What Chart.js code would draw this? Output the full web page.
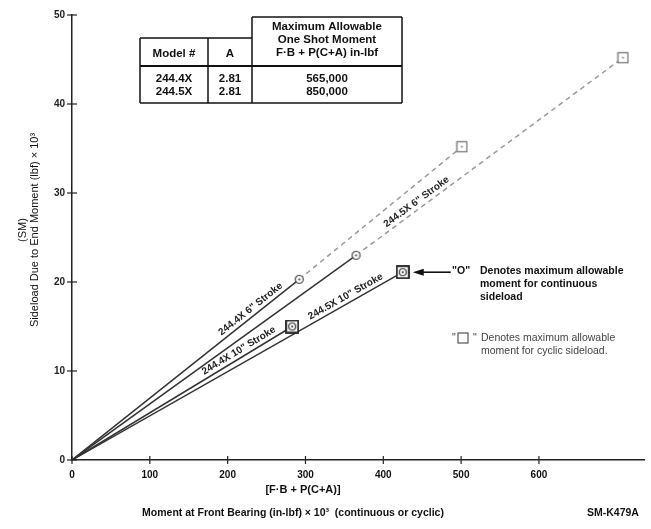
<!DOCTYPE html>
<html>
<head>
<meta charset="utf-8">
<script src="https://cdn.jsdelivr.net/npm/chart.js@4.4.0/dist/chart.umd.min.js"></script>
<style>
  html, body { margin: 0; padding: 0; background: #fff; }
  #wrap { width: 651px; height: 529px; }
</style>
</head>
<body>
<div id="wrap"><canvas id="myChart" width="651" height="529"></canvas></div>
<script>
// model / stroke combinations
const models = ['244.4X 6" Stroke', '244.5X 6" Stroke', '244.4X 10" Stroke', '244.5X 10" Stroke'];
// max allowable moment for continuous sideload (circle)
const contMoment = [292, 365, 283, 425];
const contSideload = [20.3, 23.0, 15.0, 21.1];
// max allowable moment for cyclic sideload (square)
const cycMoment = [501, 708, 283, 425];
const cycSideload = [35.2, 45.2, 15.0, 21.1];
// x value where each line label is centred
const labelMoment = [235, 448, 219, 356];

const xTicks = [0, 100, 200, 300, 400, 500, 600];
const yTicks = [0, 10, 20, 30, 40, 50];

const tableModels = ["244.4X", "244.5X"];
const tableA = ["2.81", "2.81"];
const tableMoment = ["565,000", "850,000"];

const FONT = '"Liberation Sans", Arial, sans-serif';

function makeMarker(kind) {
  const c = document.createElement("canvas");
  const s = kind == "circle" ? 11 : kind == "square" ? 13 : 14;
  c.width = s;
  c.height = s;
  const g = c.getContext("2d");
  const m = s / 2;
  g.fillStyle = "#fff";
  if (kind == "circle") {
    g.beginPath();
    g.arc(m, m, 4, 0, 2 * Math.PI);
    g.fill();
    g.strokeStyle = "#444";
    g.lineWidth = 1.2;
    g.stroke();
    g.fillStyle = "#444";
  } else if (kind == "square") {
    g.fillRect(1.5, 1.5, s - 3, s - 3);
    g.strokeStyle = "#777";
    g.lineWidth = 1.3;
    g.strokeRect(1.5, 1.5, s - 3, s - 3);
    g.fillStyle = "#888";
  } else {
    g.fillRect(1, 1, s - 2, s - 2);
    g.strokeStyle = "#222";
    g.lineWidth = 1.8;
    g.strokeRect(1, 1, s - 2, s - 2);
    g.beginPath();
    g.arc(m, m, 3.5, 0, 2 * Math.PI);
    g.strokeStyle = "#333";
    g.lineWidth = 1.2;
    g.stroke();
    g.fillStyle = "#333";
  }
  g.beginPath();
  g.arc(m, m, 1.1, 0, 2 * Math.PI);
  g.fill();
  return c;
}

const circleImg = makeMarker("circle");
const squareImg = makeMarker("square");
const bothImg = makeMarker("both");

// build datasets
let circlePts = [];
let squarePts = [];
let bothPts = [];
let datasets = [];
models.forEach((name, i) => {
  const same = cycMoment[i] == contMoment[i] && cycSideload[i] == contSideload[i];
  if (same) {
    bothPts.push({ x: contMoment[i], y: contSideload[i] });
  } else {
    circlePts.push({ x: contMoment[i], y: contSideload[i] });
    squarePts.push({ x: cycMoment[i], y: cycSideload[i] });
    //Dashed part up to the cyclic limit
    datasets.push({
      label: name + " cyclic",
      data: [
        { x: contMoment[i], y: contSideload[i] },
        { x: cycMoment[i], y: cycSideload[i] },
      ],
      showLine: true,
      borderColor: "#9a9a9a",
      borderWidth: 1.5,
      borderDash: [5, 4],
      pointRadius: 0,
      order: 2,
    });
  }
  //Solid part from origin
  datasets.push({
    label: name,
    data: [
      { x: 0, y: 0 },
      { x: contMoment[i], y: contSideload[i] },
    ],
    showLine: true,
    borderColor: "#333",
    borderWidth: 1.5,
    pointRadius: 0,
    order: 1,
  });
});
datasets.push({ label: "circle", data: circlePts, pointStyle: circleImg, pointRadius: 5, order: 0 });
datasets.push({ label: "square", data: squarePts, pointStyle: squareImg, pointRadius: 5, order: 0 });
datasets.push({ label: "both", data: bothPts, pointStyle: bothImg, pointRadius: 6, order: 0 });

function segmentFor(i, xv) {
  if (xv > contMoment[i]) {
    return [contMoment[i], contSideload[i], cycMoment[i], cycSideload[i]];
  }
  return [0, 0, contMoment[i], contSideload[i]];
}

function line(ctx, x1, y1, x2, y2) {
  ctx.beginPath();
  ctx.moveTo(x1, y1);
  ctx.lineTo(x2, y2);
  ctx.stroke();
}

const annotationPlugin = {
  id: "annotations",
  afterDraw(chart) {
    const ctx = chart.ctx;
    const xs = chart.scales.x;
    const ys = chart.scales.y;
    const area = chart.chartArea;
    ctx.save();

    //Tick marks crossing the axes
    ctx.strokeStyle = "#222";
    ctx.lineWidth = 1.2;
    xTicks.forEach((v) => {
      const px = xs.getPixelForValue(v);
      line(ctx, px, area.bottom - 4, px, area.bottom + 4);
    });
    yTicks.forEach((v) => {
      const py = ys.getPixelForValue(v);
      line(ctx, area.left - 5, py, area.left + 5, py);
    });

    //Labels along the lines
    ctx.fillStyle = "#222";
    ctx.font = "bold 10px " + FONT;
    ctx.textAlign = "center";
    ctx.textBaseline = "bottom";
    models.forEach((name, i) => {
      const seg = segmentFor(i, labelMoment[i]);
      const x1 = xs.getPixelForValue(seg[0]);
      const y1 = ys.getPixelForValue(seg[1]);
      const x2 = xs.getPixelForValue(seg[2]);
      const y2 = ys.getPixelForValue(seg[3]);
      const t = (labelMoment[i] - seg[0]) / (seg[2] - seg[0]);
      const cx = x1 + (x2 - x1) * t;
      const cy = y1 + (y2 - y1) * t;
      ctx.save();
      ctx.translate(cx, cy);
      ctx.rotate(Math.atan2(y2 - y1, x2 - x1));
      ctx.fillText(name, 0, -2);
      ctx.restore();
    });

    //Table
    const tl = 140, c1 = 208, c2 = 252, tr = 402;
    const top3 = 17, top = 38, hb = 66, bot = 103;
    ctx.strokeStyle = "#111";
    ctx.lineWidth = 1.5;
    line(ctx, tl, top, c2, top);
    line(ctx, c2, top3, tr, top3);
    line(ctx, tl, top, tl, bot);
    line(ctx, c1, top, c1, bot);
    line(ctx, c2, top3, c2, bot);
    line(ctx, tr, top3, tr, bot);
    line(ctx, tl, bot, tr, bot);
    ctx.lineWidth = 2.2;
    line(ctx, tl, hb, tr, hb);

    ctx.fillStyle = "#111";
    ctx.textBaseline = "middle";
    ctx.font = "bold 11.5px " + FONT;
    ctx.fillText("Model #", (tl + c1) / 2, 54);
    ctx.fillText("A", (c1 + c2) / 2, 54);
    ctx.fillText("Maximum Allowable", (c2 + tr) / 2, 27);
    ctx.fillText("One Shot Moment", (c2 + tr) / 2, 40);
    ctx.fillText("F\u00B7B + P(C+A) in-lbf", (c2 + tr) / 2, 53);
    tableModels.forEach((m, r) => {
      const ry = 79 + r * 13;
      ctx.fillText(m, (tl + c1) / 2, ry);
      ctx.fillText(tableA[r], (c1 + c2) / 2, ry);
      ctx.fillText(tableMoment[r], (c2 + tr) / 2, ry);
    });

    //Arrow to the 244.5X 10" point
    const ax = xs.getPixelForValue(contMoment[3]) + 10;
    const ay = ys.getPixelForValue(contSideload[3]);
    ctx.strokeStyle = "#111";
    ctx.lineWidth = 1.6;
    line(ctx, ax + 8, ay, ax + 38, ay);
    ctx.beginPath();
    ctx.moveTo(ax, ay);
    ctx.lineTo(ax + 11, ay - 3.5);
    ctx.lineTo(ax + 11, ay + 3.5);
    ctx.closePath();
    ctx.fill();

    //Notes
    ctx.textAlign = "left";
    ctx.font = "bold 10.5px " + FONT;
    ctx.fillText('"O"', 452, 271);
    ctx.fillText("Denotes maximum allowable", 480, 271);
    ctx.fillText("moment for continuous", 480, 284);
    ctx.fillText("sideload", 480, 297);
    ctx.fillStyle = "#444";
    ctx.font = "10.5px " + FONT;
    ctx.fillText('"', 452, 338);
    ctx.fillText('"', 473, 338);
    ctx.strokeStyle = "#555";
    ctx.lineWidth = 1.2;
    ctx.strokeRect(458, 333, 10, 10);
    ctx.fillText("Denotes maximum allowable", 481, 338);
    ctx.fillText("moment for cyclic sideload.", 481, 351);

    //Axis titles
    ctx.fillStyle = "#111";
    ctx.textAlign = "center";
    ctx.font = "bold 11px " + FONT;
    ctx.fillText("[F\u00B7B + P(C+A)]", 303, 490);
    ctx.font = "bold 10.5px " + FONT;
    ctx.fillText("Moment at Front Bearing (in-lbf) \u00D7 10\u00B3  (continuous or cyclic)", 293, 513);
    ctx.textAlign = "left";
    ctx.fillText("SM-K479A", 587, 513);

    ctx.save();
    ctx.translate(23, 230);
    ctx.rotate(-Math.PI / 2);
    ctx.textAlign = "center";
    ctx.font = "11px " + FONT;
    ctx.fillText("(SM)", 0, 0);
    ctx.fillText("Sideload Due to End Moment (lbf) \u00D7 10\u00B3", 0, 12);
    ctx.restore();

    ctx.restore();
  },
};

const ctx = document.getElementById("myChart");
const myChart = new Chart(ctx, {
  type: "scatter",
  data: { datasets: datasets },
  options: {
    responsive: false,
    animation: false,
    devicePixelRatio: 1,
    layout: { padding: { top: 15, right: 0, left: 0, bottom: 0 } },
    plugins: {
      legend: { display: false },
      tooltip: { enabled: false },
    },
    scales: {
      x: {
        type: "linear",
        min: 0,
        max: 735,
        afterBuildTicks: (scale) => {
          scale.ticks = xTicks.map((v) => ({ value: v }));
        },
        afterFit: (scale) => {
          scale.height = 69;
        },
        grid: { display: false, drawTicks: false },
        border: { display: true, color: "#222", width: 1.5 },
        ticks: {
          padding: 9,
          color: "#111",
          font: { family: FONT, size: 10, weight: "bold" },
        },
      },
      y: {
        type: "linear",
        min: 0,
        max: 50,
        afterBuildTicks: (scale) => {
          scale.ticks = yTicks.map((v) => ({ value: v }));
        },
        afterFit: (scale) => {
          scale.width = 72;
        },
        grid: { display: false, drawTicks: false },
        border: { display: true, color: "#222", width: 1.5 },
        ticks: {
          padding: 7,
          color: "#222",
          font: { family: FONT, size: 10, weight: "bold" },
        },
      },
    },
  },
  plugins: [annotationPlugin],
});
</script>
</body>
</html>
